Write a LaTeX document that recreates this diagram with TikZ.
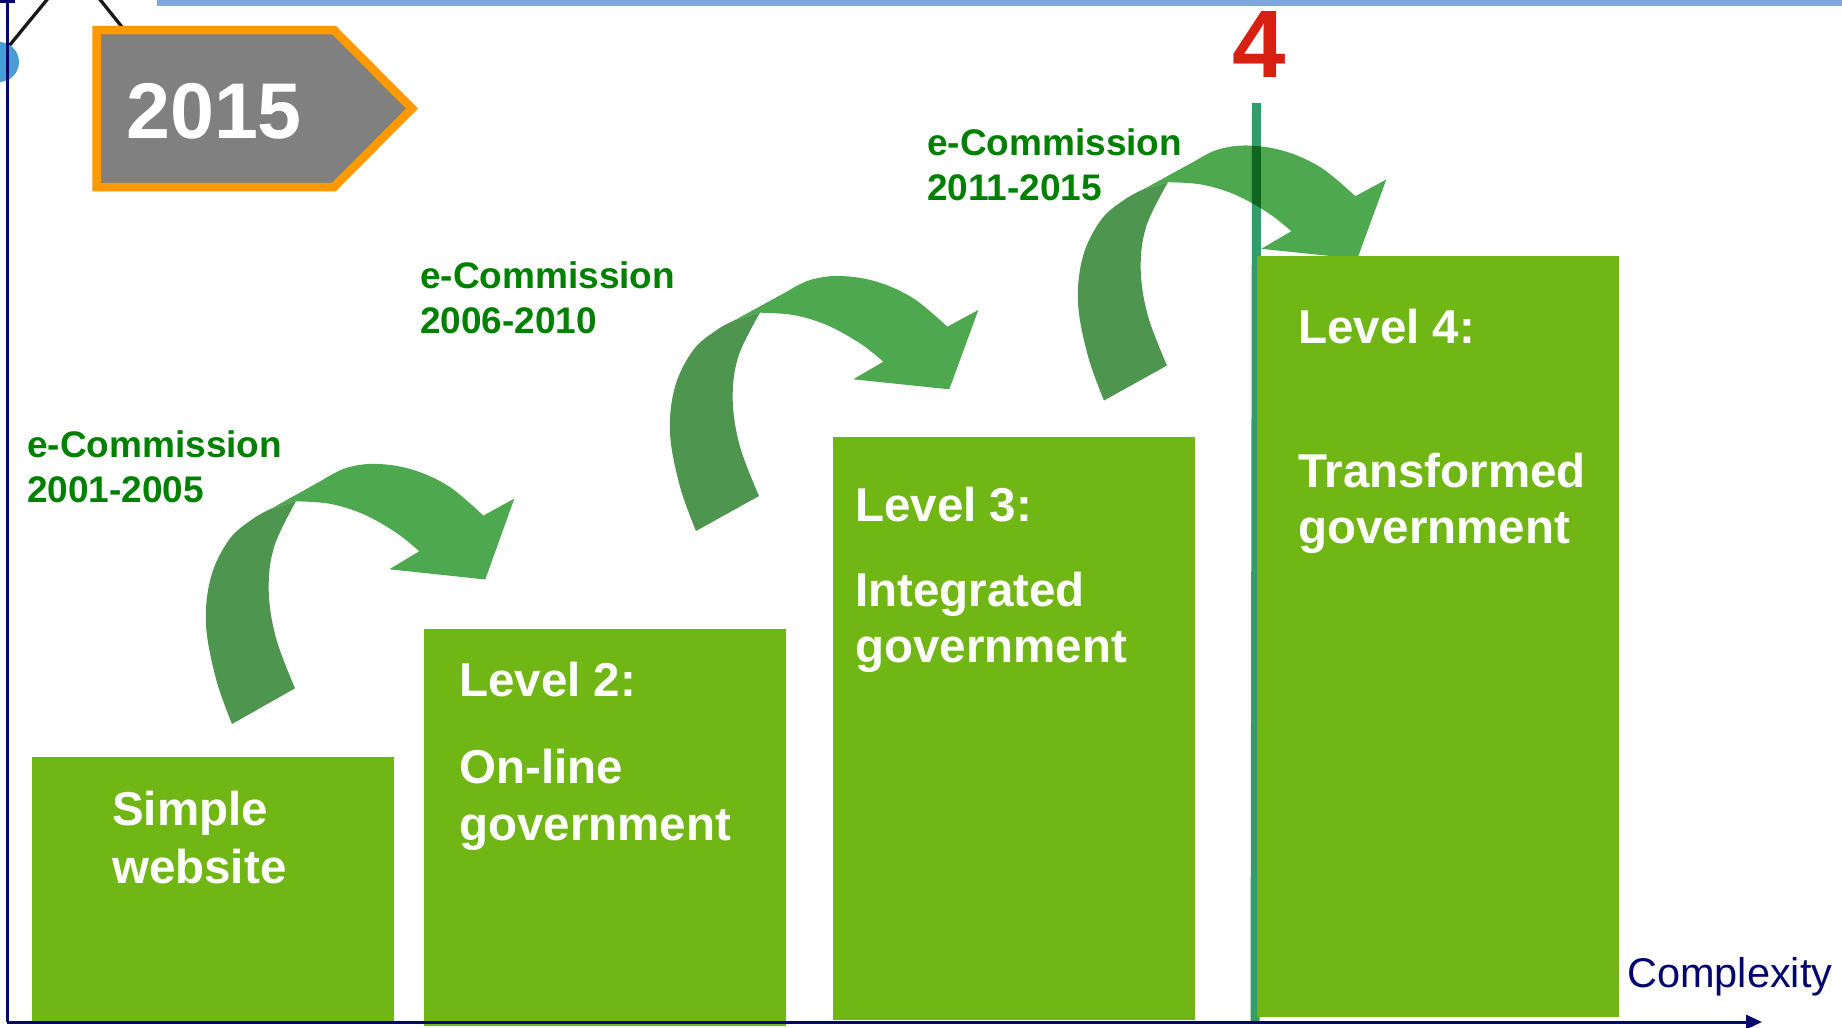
\documentclass[tikz,border=0pt]{standalone}
\usepackage{fontspec}
\setmainfont{Liberation Sans}
\usetikzlibrary{arrows.meta}
\definecolor{boxgreen}{RGB}{112,182,20}
\definecolor{labelgreen}{RGB}{0,128,0}
\definecolor{arrowdark}{RGB}{78,150,79}
\definecolor{arrowlight}{RGB}{77,168,79}
\definecolor{vgreen}{RGB}{53,155,106}
\definecolor{axisnavy}{RGB}{5,5,110}
\definecolor{topblue}{RGB}{127,168,214}
\definecolor{dotblue}{RGB}{75,155,213}
\definecolor{tagorange}{RGB}{255,153,0}
\definecolor{taggray}{RGB}{128,128,128}
\definecolor{fourred}{RGB}{215,32,18}
\newcommand\curvedarrow[2][]{%
  \begin{scope}[shift={#2},#1]
    \fill[arrowdark] plot[smooth,tension=.6] coordinates {(0,0) (-16,-44.3) (-26,-97.7) (-21,-144.3) (-2.7,-181) (20.7,-201) (39,-211)}
      -- (64,-218.3)
      -- plot[smooth,tension=.6] coordinates {(64,-218.3) (42.3,-174.3) (36.7,-131) (44,-84.3) (63,-35)}
      -- cycle;
    \fill[arrowlight] (39,-211) -- (90.7,-239.3)
      -- plot[smooth,tension=.6] coordinates {(90.7,-239.3) (114,-251) (144,-255) (180.7,-249.3) (217.3,-232.7) (251.3,-204.3)}
      -- (282.3,-221) -- (253.3,-141.7) -- (157.3,-151.7) -- (187.3,-169.3)
      -- plot[smooth,tension=.6] coordinates {(187.3,-169.3) (164,-187.7) (130.7,-206) (97.3,-216) (64,-218.3)}
      -- cycle;
  \end{scope}}
\tikzset{
  levelbox/.style={fill=boxgreen, draw=none, inner sep=0pt, outer sep=0pt, anchor=north west},
  lvltext/.style={text=white, font=\bfseries\fontsize{47.5}{56}\selectfont, anchor=base west, inner sep=0pt},
  eclabel/.style={text=labelgreen, font=\bfseries\fontsize{37}{45}\selectfont, anchor=base west, inner sep=0pt},
  axisline/.style={draw=axisnavy, line width=3pt},
}
\begin{document}
\begin{tikzpicture}[x=1pt,y=-1pt]
\useasboundingbox (0,0) rectangle (1842,1028);
\clip (0,0) rectangle (1842,1028);
\fill[white] (0,0) rectangle (1842,1028);

% top decorations
\fill[topblue] (157,0) rectangle (1842,6);
\coordinate (k1a) at (0,57);
\coordinate (k1b) at (50,-4);
\coordinate (k2a) at (98,-3);
\coordinate (k2b) at (126,32);
\draw[black!90, line width=3.3pt] (k1a) -- (k1b);
\draw[black!90, line width=3.3pt] (k2a) -- (k2b);
\fill[dotblue] (-1,62) circle (20);

% 2015 tag
\draw[tagorange, fill=taggray, line width=8.5pt, line join=miter]
  (96.5,30) -- (334,30) -- (412,108.5) -- (334,187) -- (96.5,187) -- cycle;
\node (year) [text=white, font=\bfseries\fontsize{79}{90}\selectfont, anchor=base west, inner sep=0pt] at (126,138) {2015};

% e-Commission labels
\node (e1a) [eclabel] at (27,457) {e-Commission};
\node (e1b) [eclabel] at (27,502) {2001-2005};
\node (e2a) [eclabel] at (420,288) {e-Commission};
\node (e2b) [eclabel] at (420,333) {2006-2010};
\node (e3a) [eclabel] at (927,155) {e-Commission};
\node (e3b) [eclabel] at (927,200) {2011-2015};

% curved arrows
\curvedarrow[yscale=1.02]{(232,724)}
\curvedarrow{(696,531)}
\curvedarrow{(1104,400.5)}

% vertical green marker line
\coordinate (vtop) at (1256.5,103);
\coordinate (vbot) at (1255,1022);
\draw[vgreen, line width=9pt, blend mode=multiply] (vtop) -- (vbot);

% level boxes
\node (b1) [levelbox, minimum width=362pt, minimum height=265pt] at (31.7,756.5) {};
\node (b2) [levelbox, minimum width=362pt, minimum height=397pt] at (424,628.5) {};
\node (b3) [levelbox, minimum width=362pt, minimum height=583pt] at (833,437) {};
\node (b4) [levelbox, minimum width=362pt, minimum height=761pt] at (1257,256) {};

\node (t1a) [lvltext] at (112,825) {Simple};
\node (t1b) [lvltext] at (112,883) {website};
\node (t2a) [lvltext] at (459,696) {Level 2:};
\node (t2b) [lvltext] at (459,783) {On-line};
\node (t2c) [lvltext] at (459,840) {government};
\node (t3a) [lvltext] at (855,521) {Level 3:};
\node (t3b) [lvltext] at (855,606) {Integrated};
\node (t3c) [lvltext] at (855,662) {government};
\node (t4a) [lvltext] at (1298,343) {Level 4:};
\node (t4b) [lvltext] at (1298,487) {Transformed};
\node (t4c) [lvltext] at (1298,543) {government};

% axes
\coordinate (ytop) at (7,0);
\coordinate (origin) at (7,1022);
\coordinate (xend) at (1762,1022);
\draw[axisline] (origin) -- (ytop);
\draw[axisnavy, line width=2.5pt] (0,1.5) -- (15,1.5);
\draw[axisline, -{Triangle[length=16pt,width=14pt]}] (origin) -- (xend);
\node (cx) [text=axisnavy, font=\fontsize{41.5}{48}\selectfont, anchor=base west, inner sep=0pt] at (1627,987) {Complexity};

% red 4
\node (four) [text=fourred, font=\bfseries\fontsize{96}{110}\selectfont, anchor=base, inner sep=0pt] at (1259,77) {4};
\end{tikzpicture}
\end{document}
